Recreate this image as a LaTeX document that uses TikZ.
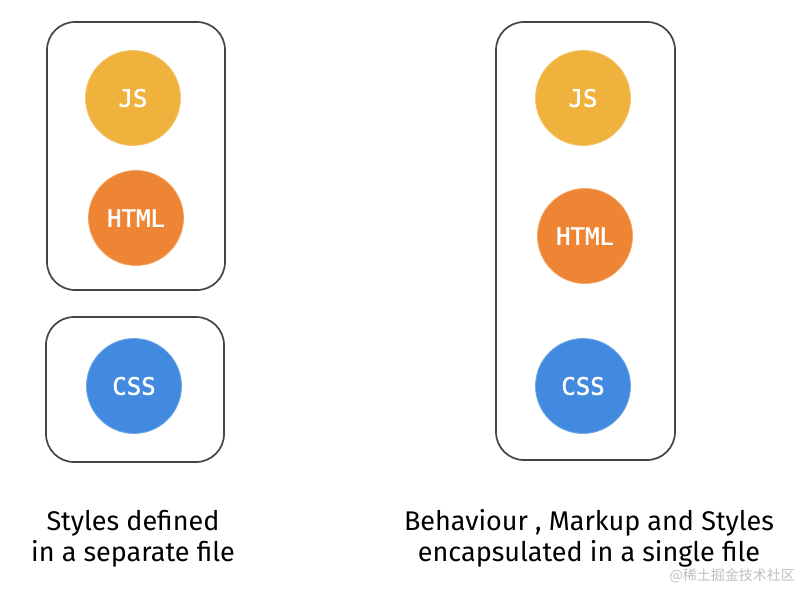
\documentclass[tikz,border=0pt]{standalone}
\usepackage{fontspec}
\setmainfont{Fira Sans}
\newfontfamily\codefont{DejaVu Sans Mono}[FakeBold=1.5]
\newfontfamily\cjkfont{Noto Sans CJK SC}
\definecolor{jsyellow}{HTML}{EFB23D}
\definecolor{htmlorange}{HTML}{ED8535}
\definecolor{cssblue}{HTML}{418AE0}
\definecolor{boxline}{HTML}{444444}
\begin{document}
\begin{tikzpicture}[x=1pt,y=-1pt,
    frame/.style={draw=boxline,line width=1.7pt,rounded corners=28pt},
    tech/.style={circle,minimum size=95pt,inner sep=0pt,text=white,
      font=\codefont\fontsize{24}{24}\selectfont,draw=#1!75!white,line width=0.8pt,fill=#1},
    caption/.style={align=center,font=\fontsize{27}{31}\selectfont}]
  \useasboundingbox[fill=white] (0,0) rectangle (800,589);
  % separate files
  \draw[frame] (47,22) rectangle (225,290);
  \draw[frame] (46,317) rectangle (224,462);
  \node[tech=jsyellow] (jsL) at (133,98) {JS};
  \node[tech=htmlorange] (htmlL) at (136,218) {HTML};
  \node[tech=cssblue] (cssL) at (134,386) {CSS};
  % single file
  \draw[frame] (496,22) rectangle (675,460);
  \node[tech=jsyellow] (jsR) at (583,98) {JS};
  \node[tech=htmlorange] (htmlR) at (585,236) {HTML};
  \node[tech=cssblue] (cssR) at (583,386) {CSS};
  \node[caption] (capL) at (133,539) {Styles defined\\in a separate file};
  \node[caption] (capR) at (589,538) {Behaviour , Markup and Styles\\encapsulated in a single file};
  \node[font=\cjkfont\fontsize{14}{14}\selectfont,text=black!25,anchor=east,inner sep=1pt] (mark) at (796,576) {@稀土掘金技术社区};
\end{tikzpicture}
\end{document}
